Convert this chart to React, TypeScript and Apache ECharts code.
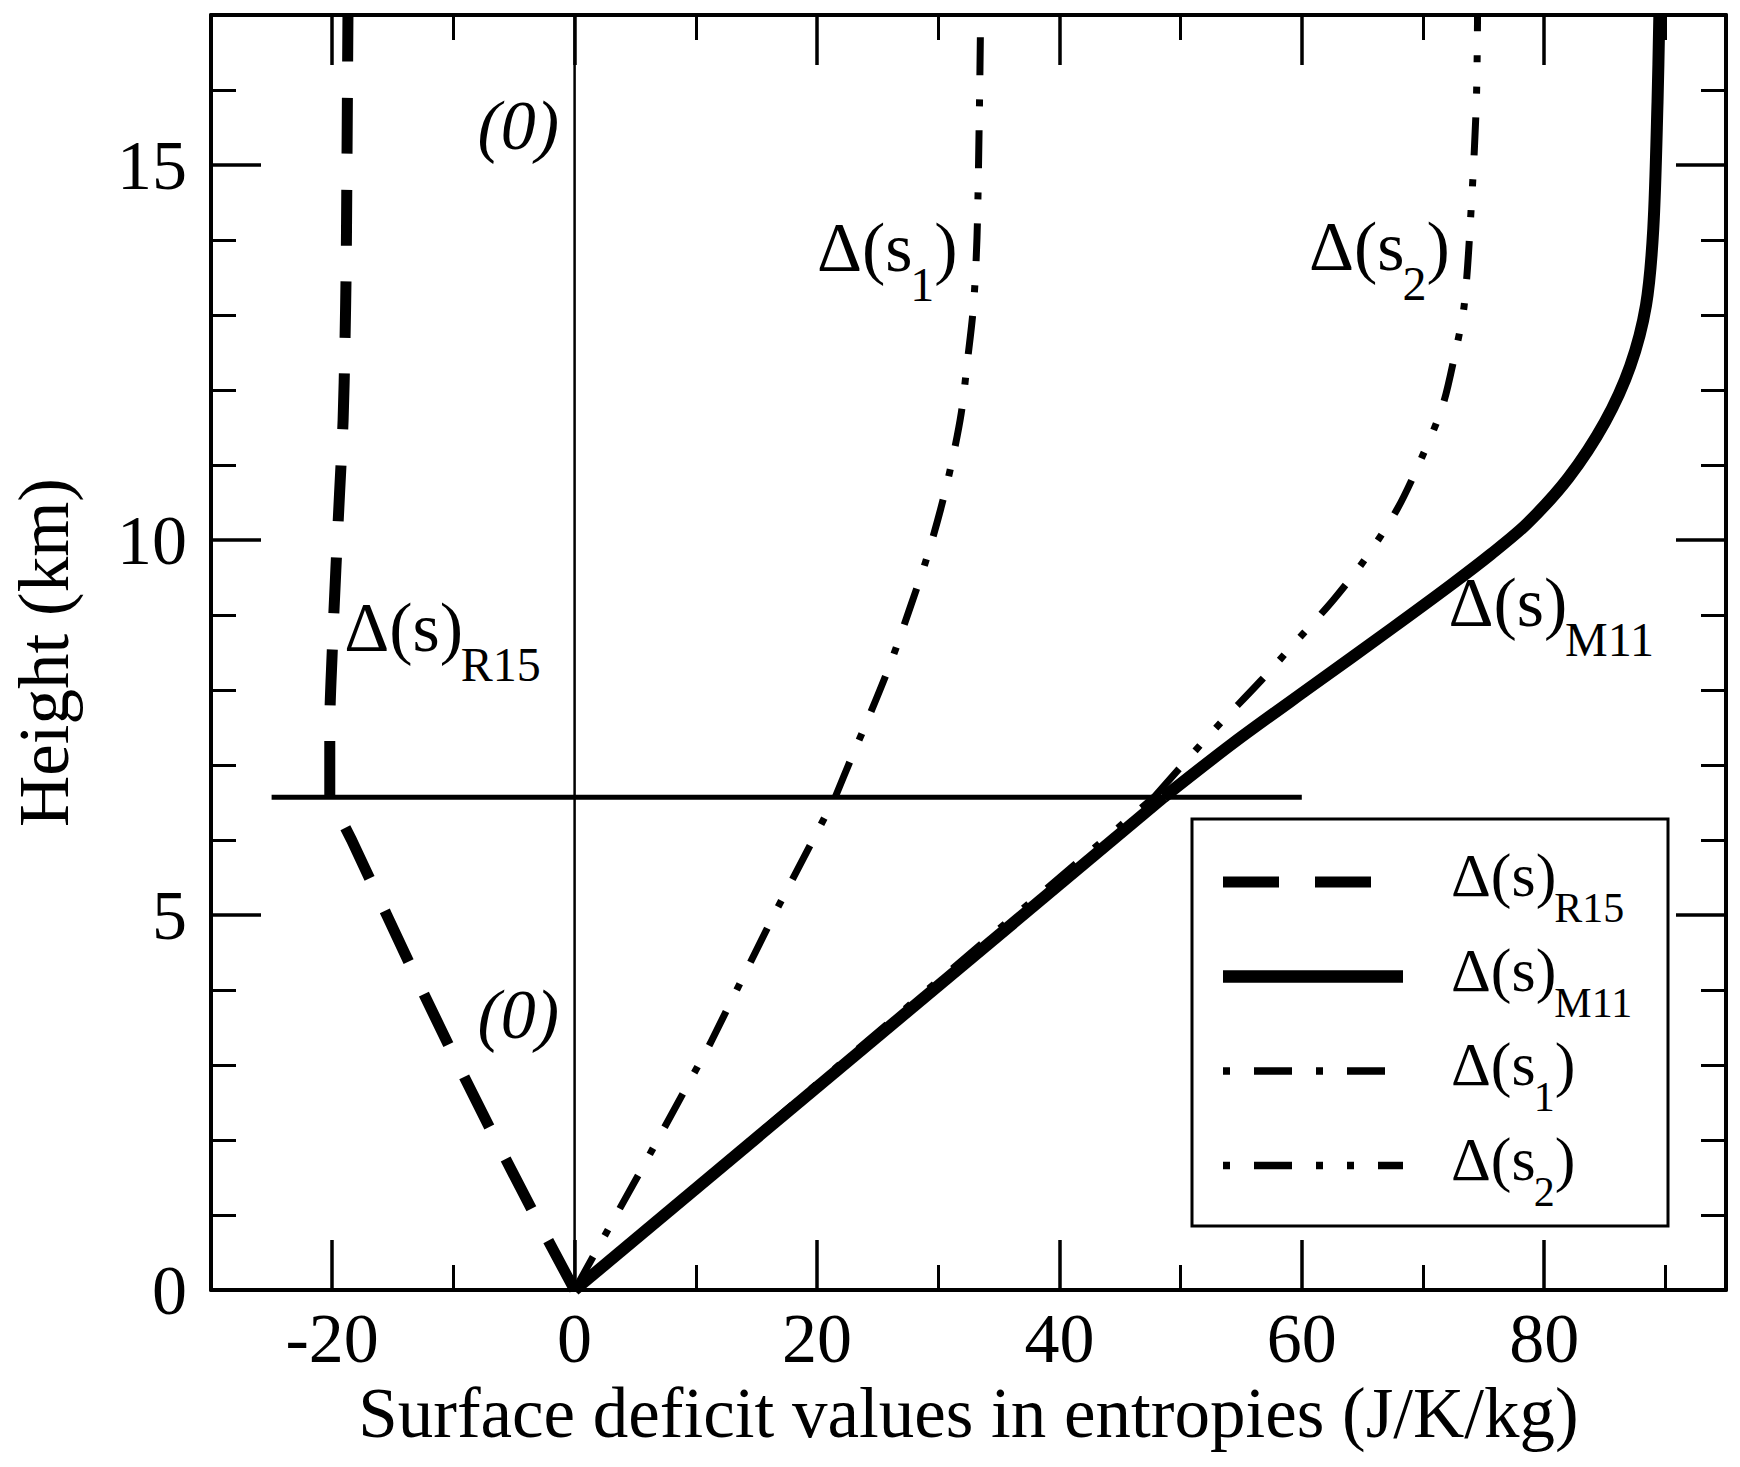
import React, { useEffect, useRef } from "react";
import * as echarts from "echarts";

// ---- axis ranges & ticks ----
const X_MIN = -30;
const X_MAX = 95;
const Y_MIN = 0;
const Y_MAX = 17;
const xMajorTicks = [-20, 0, 20, 40, 60, 80];
const xMinorTicks = [-10, 10, 30, 50, 70, 90];
const yMajorTicks = [0, 5, 10, 15];
const yMinorTicks = [1, 2, 3, 4, 6, 7, 8, 9, 11, 12, 13, 14, 16];

// ---- reference lines ----
const zeroLine = [[0, 0], [0, 17]];
const levelLine = [[-25, 6.57], [60, 6.57]];

// ---- series data: [deficit (J/K/kg), height (km)] ----
const r15Lower = [[0, 0], [-3.3, 1], [-6.5, 2], [-9.6, 3], [-12.6, 4], [-15.5, 5], [-18.4, 6], [-20.2, 6.57]];
const r15Upper = [[-20.2, 6.57], [-20.2, 7.5], [-20.0, 8.5], [-19.7, 9.6], [-19.4, 10.6], [-19.1, 11.6], [-18.95, 12.6], [-18.85, 13.6], [-18.8, 14.6], [-18.75, 15.8], [-18.7, 17]];

const m11Lower = [[0, 0], [48.6, 6.57]];
const m11Upper = [[48.6, 6.57], [54.4, 7.3], [60.8, 8.05], [67.5, 8.83], [72.3, 9.4], [75.6, 9.81], [78.6, 10.22], [82.0, 10.83], [85.0, 11.57], [87.1, 12.32], [88.4, 13.13], [89.0, 14.15], [89.35, 15.84], [89.5, 17]];

const s1Lower = [[0, 0], [5.8, 1.69], [11.2, 3.29], [16.5, 5.02], [21.5, 6.57]];
const s1Upper = [[21.5, 6.57], [22.7, 7.04], [24.3, 7.65], [26.0, 8.33], [27.6, 9.06], [29.0, 9.73], [30.2, 10.41], [31.1, 11.02], [31.9, 11.69], [32.4, 12.37], [32.9, 13.1], [33.2, 14.03], [33.4, 15.75], [33.5, 17]];

const s2Lower = [[0, 0], [47.8, 6.57]];
const s2Upper = [[47.8, 6.57], [52.6, 7.44], [56.6, 8.12], [59.6, 8.66], [62.6, 9.2], [65.2, 9.74], [67.9, 10.42], [69.9, 11.1], [71.6, 11.78], [72.6, 12.45], [73.4, 13.13], [74.0, 14.49], [74.4, 15.84], [74.5, 17]];

// ---- text annotations (anchor = centre, data coordinates) ----
// each part: [text, kind] with kind "m" main, "s" subscript, "it" italic
const annotX = [-4.65, -4.65, 25.8, 66.4, -10.9, 80.65];
const annotY = [15.53, 3.68, 13.9, 13.92, 8.83, 9.17];
const annotParts: [string, string][][] = [
  [["(0)", "it"]],
  [["(0)", "it"]],
  [["Δ(s", "m"], ["1", "s"], [")", "m"]],
  [["Δ(s", "m"], ["2", "s"], [")", "m"]],
  [["Δ(s)", "m"], ["R15", "s"]],
  [["Δ(s)", "m"], ["M11", "s"]],
];

// ---- legend ----
const legendNames = ["R15", "M11", "s1", "s2"];
const legendParts: Record<string, [string, string][]> = {
  R15: [["Δ(s)", "m"], ["R15", "s"]],
  M11: [["Δ(s)", "m"], ["M11", "s"]],
  s1: [["Δ(s", "m"], ["1", "s"], [")", "m"]],
  s2: [["Δ(s", "m"], ["2", "s"], [")", "m"]],
};
const legendDash: Record<string, number[] | null> = {
  R15: [56, 36],
  M11: null,
  s1: [7, 24, 38, 24],
  s2: [7, 24, 38, 24, 7, 24],
};
const legendWidth: Record<string, number> = { R15: 11, M11: 12.5, s1: 7.5, s2: 7.5 };

const FONT = "Liberation Serif";
const BLACK = "#000000";

const dashR15 = [56, 36];
const dashS1 = [38, 24, 7, 24];
const dashS2 = [38, 24, 7, 24, 7, 24];

// advance widths (em) of the serif face, used to chain main text and subscripts
const CHAR_W: Record<string, number> = {
  "Δ": 0.612, "(": 0.333, ")": 0.333, s: 0.389, R: 0.667, M: 0.889,
  "0": 0.5, "1": 0.5, "2": 0.5, "5": 0.5,
};
function textW(t: string, size: number) {
  let w = 0;
  for (const c of t) w += (CHAR_W[c] ?? 0.5) * size;
  return w;
}

function layoutParts(parts: [string, string][], main: number, sub: number, drop: number) {
  const sizes = parts.map(([, k]) => (k === "s" ? sub : main));
  const widths = parts.map(([t], i) => textW(t, sizes[i]));
  const total = widths.reduce((a, b) => a + b, 0);
  let acc = 0;
  return parts.map(([t, k], i) => {
    const r = { text: t, kind: k, size: sizes[i], dx: acc, dy: k === "s" ? drop : 0, total };
    acc += widths[i];
    return r;
  });
}

function curve(name: string, data: number[][], width: number, type: any, smooth: number | boolean) {
  return {
    name,
    type: "line",
    data,
    symbol: "none",
    showSymbol: false,
    smooth,
    silent: true,
    z: 4,
    lineStyle: { color: BLACK, width, type, cap: "butt", join: "round" },
    itemStyle: { color: BLACK },
  };
}

function axisCommon(extra: any) {
  return {
    type: "value",
    splitLine: { show: false },
    axisLine: { show: true, onZero: false, lineStyle: { color: BLACK, width: 4 } },
    axisLabel: { show: false },
    ...extra,
  };
}

export default function App() {
  const ref = useRef<HTMLDivElement>(null);

  useEffect(() => {
    if (!ref.current) return;
    const chart = echarts.init(ref.current, undefined, { renderer: "svg" });

    const tickLabelStyle = {
      show: true,
      color: BLACK,
      fontFamily: FONT,
      fontSize: 70,
    };

    const xAxes = [
      axisCommon({
        min: X_MIN,
        max: X_MAX,
        position: "bottom",
        axisTick: { show: true, inside: true, length: 50, customValues: xMajorTicks, lineStyle: { color: BLACK, width: 3.5 } },
        axisLabel: { ...tickLabelStyle, margin: 13, customValues: xMajorTicks },
        name: "Surface deficit values in entropies (J/K/kg)",
        nameLocation: "middle",
        nameGap: 79,
        nameTextStyle: { color: BLACK, fontFamily: FONT, fontSize: 71 },
      }),
      axisCommon({
        min: X_MIN,
        max: X_MAX,
        position: "bottom",
        axisLine: { show: false, onZero: false },
        axisTick: { show: true, inside: true, length: 25, customValues: xMinorTicks, lineStyle: { color: BLACK, width: 3 } },
      }),
      axisCommon({
        min: X_MIN,
        max: X_MAX,
        position: "top",
        axisTick: { show: true, inside: true, length: 50, customValues: xMajorTicks, lineStyle: { color: BLACK, width: 3.5 } },
      }),
      axisCommon({
        min: X_MIN,
        max: X_MAX,
        position: "top",
        axisLine: { show: false, onZero: false },
        axisTick: { show: true, inside: true, length: 25, customValues: xMinorTicks, lineStyle: { color: BLACK, width: 3 } },
      }),
    ];

    const yAxes = [
      axisCommon({
        min: Y_MIN,
        max: Y_MAX,
        position: "left",
        axisTick: { show: true, inside: true, length: 50, customValues: yMajorTicks, lineStyle: { color: BLACK, width: 3.5 } },
        axisLabel: { ...tickLabelStyle, margin: 24, customValues: yMajorTicks },
        name: "Height (km)",
        nameLocation: "middle",
        nameGap: 132,
        nameTextStyle: { color: BLACK, fontFamily: FONT, fontSize: 71 },
      }),
      axisCommon({
        min: Y_MIN,
        max: Y_MAX,
        position: "left",
        axisLine: { show: false, onZero: false },
        axisTick: { show: true, inside: true, length: 25, customValues: yMinorTicks, lineStyle: { color: BLACK, width: 3 } },
      }),
      axisCommon({
        min: Y_MIN,
        max: Y_MAX,
        position: "right",
        axisTick: { show: true, inside: true, length: 50, customValues: yMajorTicks, lineStyle: { color: BLACK, width: 3.5 } },
      }),
      axisCommon({
        min: Y_MIN,
        max: Y_MAX,
        position: "right",
        axisLine: { show: false, onZero: false },
        axisTick: { show: true, inside: true, length: 25, customValues: yMinorTicks, lineStyle: { color: BLACK, width: 3 } },
      }),
    ];

    // annotation pieces as plain labels anchored at data points
    const annotData: any[] = [];
    annotParts.forEach((parts, k) => {
      const laid = layoutParts(parts, 70, 48, 37);
      laid.forEach((p) => {
        annotData.push({
          value: [annotX[k], annotY[k]],
          label: {
            show: true,
            formatter: p.text,
            position: "inside",
            align: "left",
            verticalAlign: "middle",
            offset: [p.dx - p.total / 2, p.dy],
            color: BLACK,
            opacity: 1,
            fontFamily: FONT,
            fontSize: p.size,
            fontStyle: p.kind === "it" ? "italic" : "normal",
          },
        });
      });
    });

    // legend drawn as graphics (box, key strokes, texts)
    const legendLeft = 1192;
    const legendTop = 819;
    const legendW = 476;
    const legendH = 407;
    const row0 = 882;
    const rowH = 94.5;
    const sampleX0 = 1223;
    const sampleX1 = 1403;
    const textX0 = 1451;

    const legendGraphics: any[] = [
      {
        type: "rect",
        silent: true,
        z: 100,
        shape: { x: legendLeft, y: legendTop, width: legendW, height: legendH },
        style: { fill: "#fff", stroke: BLACK, lineWidth: 3 },
      },
    ];
    legendNames.forEach((n, k) => {
      const y = row0 + k * rowH;
      const dash = legendDash[n];
      legendGraphics.push({
        type: "line",
        silent: true,
        z: 101,
        shape: { x1: sampleX0, y1: y, x2: sampleX1, y2: y },
        style: { stroke: BLACK, lineWidth: legendWidth[n], lineDash: dash || undefined, lineCap: "butt" },
      });
      const laid = layoutParts(legendParts[n], 62, 42, 33);
      laid.forEach((p) => {
        legendGraphics.push({
          type: "text",
          silent: true,
          z: 101,
          x: textX0 + p.dx,
          y: y - 7 + p.dy,
          style: {
            text: p.text,
            fontFamily: FONT,
            fontSize: p.size,
            fill: BLACK,
            textAlign: "left",
            textVerticalAlign: "middle",
          },
        });
      });
    });

    const option: any = {
      animation: false,
      backgroundColor: "#ffffff",
      textStyle: { fontFamily: FONT, color: BLACK },
      grid: { left: 194, top: 15, right: 14, bottom: 177, containLabel: false },
      xAxis: xAxes,
      yAxis: yAxes,
      graphic: legendGraphics,
      series: [
        {
          name: "zero",
          type: "line",
          data: zeroLine,
          symbol: "none",
          silent: true,
          z: 2,
          lineStyle: { color: BLACK, width: 2.5 },
        },
        {
          name: "level",
          type: "line",
          data: levelLine,
          symbol: "none",
          silent: true,
          z: 2,
          lineStyle: { color: BLACK, width: 5 },
        },
        curve("R15", r15Lower, 11, dashR15, false),
        curve("R15", r15Upper, 11, dashR15, 0.3),
        curve("s1", s1Lower, 7, dashS1, false),
        curve("s1", s1Upper, 7, dashS1, 0.3),
        curve("s2", s2Lower, 7, dashS2, false),
        curve("s2", s2Upper, 7, dashS2, 0.3),
        curve("M11", m11Lower, 12, "solid", false),
        curve("M11", m11Upper, 12, "solid", 0.3),
        {
          name: "annotations",
          type: "scatter",
          data: annotData,
          symbolSize: 1,
          silent: true,
          z: 6,
          itemStyle: { color: "rgba(0,0,0,0)", opacity: 1 },
          label: { show: true, color: BLACK, opacity: 1, fontFamily: FONT },
        },
      ],
    };

    chart.setOption(option);
    return () => {
      chart.dispose();
    };
  }, []);

  return (
    <div
      ref={ref}
      style={{ position: "absolute", left: 0, top: 0, width: 1740, height: 1467, background: "#fff" }}
    />
  );
}
